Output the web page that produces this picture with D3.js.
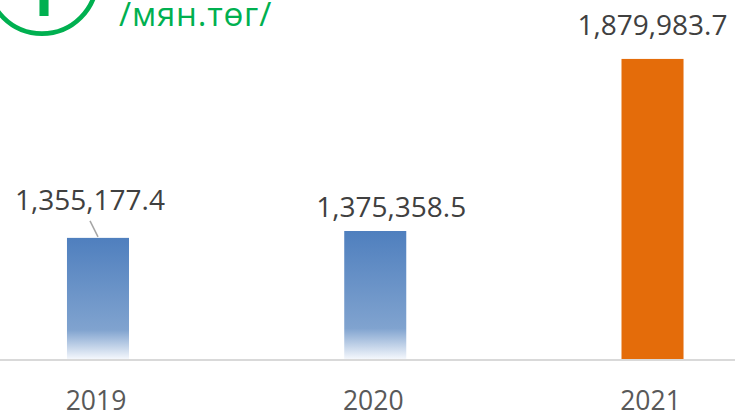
<!DOCTYPE html>
<html>
<head>
<meta charset="utf-8">
<script src="https://cdn.jsdelivr.net/npm/d3@7"></script>
<style>
    body { margin: 0; background: #fff; }
    svg { display: block; font-family: "Open Sans", "Noto Sans", sans-serif; }
    .value { fill: #404040; font-size: 28px; }
    .year { fill: #595959; font-size: 26.5px; }
    .unit { fill: #00b050; font-size: 33px; letter-spacing: 0.8px; }
</style>
</head>
<body>
<script>
(function(){
    var years = ["2019", "2020", "2021"]; //categories
    var values = [1355177.4, 1375358.5, 1879983.7]; //мян.төг
    var valueLabels = ["1,355,177.4", "1,375,358.5", "1,879,983.7"];
    var unitLabel = "/мян.төг/";

    //label nudges, as placed in the original
    var labelShift = [[-8, -28], [16, -14], [0, -24]];

    window.onload = setChart();

    function setChart(){
        var width = 735,
            height = 413;

        var svg = d3.select("body")
            .append("svg")
            .attr("width", width)
            .attr("height", height);

        var defs = svg.append("defs");
        var grad = defs.append("linearGradient")
            .attr("id", "blueFade")
            .attr("x1", 0).attr("y1", 0)
            .attr("x2", 0).attr("y2", 1);
        grad.append("stop").attr("offset", "0%").attr("stop-color", "#4f7fbe");
        grad.append("stop").attr("offset", "76%").attr("stop-color", "#80a3cf");
        grad.append("stop").attr("offset", "100%").attr("stop-color", "#f4f7fc");

        //bands centred on the three bars
        var xScale = d3.scaleBand()
            .domain(years)
            .range([-40.6, 791.1])
            .paddingInner(0.7763)
            .paddingOuter(0.388);

        //axis does not start at zero
        var yScale = d3.scaleLinear()
            .domain([1000000, 2000000])
            .range([359, 18]);

        //bars
        svg.selectAll(".bar")
            .data(values)
            .enter()
            .append("rect")
            .attr("class", "bar")
            .attr("x", function(d, i){ return xScale(years[i]); })
            .attr("width", xScale.bandwidth())
            .attr("y", function(d){ return yScale(d); })
            .attr("height", function(d){ return yScale.range()[0] - yScale(d); })
            .style("fill", function(d, i){
                return i == years.length - 1 ? "#e46c0a" : "url(#blueFade)";
            });

        //baseline
        svg.append("line")
            .attr("x1", 0).attr("x2", width)
            .attr("y1", 360).attr("y2", 360)
            .attr("stroke", "#d9d9d9")
            .attr("stroke-width", 2);

        //leader line for the first label
        svg.append("line")
            .attr("x1", xScale(years[0]) + xScale.bandwidth() / 2 - 8)
            .attr("y1", yScale(values[0]) - 17)
            .attr("x2", xScale(years[0]) + xScale.bandwidth() / 2)
            .attr("y2", yScale(values[0]) - 1)
            .attr("stroke", "#a6a6a6")
            .attr("stroke-width", 1.5);

        //value labels
        svg.selectAll(".value")
            .data(values)
            .enter()
            .append("text")
            .attr("class", "value")
            .attr("text-anchor", "middle")
            .attr("x", function(d, i){ return xScale(years[i]) + xScale.bandwidth() / 2 + labelShift[i][0]; })
            .attr("y", function(d, i){ return yScale(d) + labelShift[i][1]; })
            .text(function(d, i){ return valueLabels[i]; });

        //category labels
        svg.selectAll(".year")
            .data(years)
            .enter()
            .append("text")
            .attr("class", "year")
            .attr("text-anchor", "middle")
            .attr("x", function(d){ return xScale(d) + xScale.bandwidth() / 2 - 2; })
            .attr("y", 410)
            .text(function(d){ return d; });

        //badge in the corner, cut off by the frame
        svg.append("circle")
            .attr("cx", 42).attr("cy", -21)
            .attr("r", 54.7)
            .attr("fill", "none")
            .attr("stroke", "#00b050")
            .attr("stroke-width", 4.7);

        svg.append("text")
            .attr("x", 41).attr("y", 16)
            .attr("text-anchor", "middle")
            .attr("fill", "#00b050")
            .attr("font-weight", "bold")
            .attr("font-size", 60)
            .text("1");

        svg.append("text")
            .attr("class", "unit")
            .attr("x", 119).attr("y", 26)
            .text(unitLabel);
    };
})();
</script>
</body>
</html>
